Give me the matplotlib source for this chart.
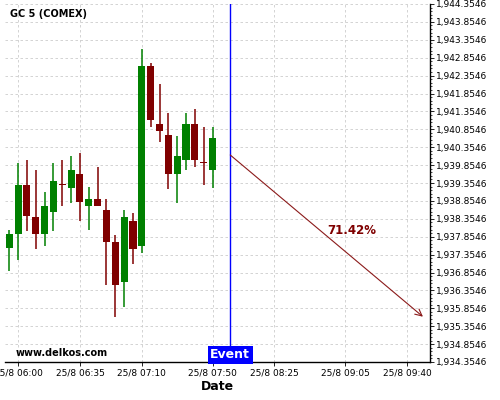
import matplotlib
matplotlib.use("Agg")
import matplotlib.pyplot as plt
import numpy as np
from matplotlib.ticker import FuncFormatter, FixedLocator

# 5-minute candles starting 25/8 05:55 (minutes since midnight)
start_min = 355
opens  = [1937.53, 1937.93, 1939.31, 1938.41, 1937.93, 1938.54, 1939.33, 1939.22,
          1939.61, 1938.72, 1938.90, 1938.60, 1937.71, 1936.60, 1938.30, 1937.60,
          1942.62, 1941.00, 1940.70, 1939.61, 1940.01, 1941.00, 1939.94, 1939.73]
highs  = [1938.03, 1939.90, 1939.99, 1939.71, 1939.10, 1939.90, 1939.99, 1940.11,
          1940.18, 1939.25, 1939.79, 1938.90, 1937.91, 1938.59, 1938.52, 1943.09,
          1942.70, 1942.11, 1941.30, 1940.68, 1941.30, 1941.41, 1940.91, 1940.91]
lows   = [1936.90, 1937.21, 1938.01, 1937.51, 1937.59, 1938.02, 1938.72, 1938.79,
          1938.30, 1938.03, 1938.70, 1936.50, 1935.60, 1935.88, 1937.08, 1937.39,
          1940.91, 1940.49, 1939.20, 1938.79, 1939.72, 1939.79, 1939.29, 1939.21]
closes = [1937.92, 1939.31, 1938.43, 1937.93, 1938.72, 1939.42, 1939.31, 1939.71,
          1938.82, 1938.90, 1938.72, 1937.72, 1936.51, 1938.41, 1937.52, 1942.62,
          1941.12, 1940.82, 1939.61, 1940.11, 1941.00, 1940.01, 1939.92, 1940.61]

tick_mins = [360, 395, 430, 470, 505, 545, 580]
tick_labels = ["25/8 06:00", "25/8 06:35", "25/8 07:10", "25/8 07:50",
               "25/8 08:25", "25/8 09:05", "25/8 09:40"]

event_min = 480
arrow_start = (480, 1940.137)
arrow_end = (589, 1935.62)
pct_text = "71.42%"
pct_pos = (548.7, 1938.04)

y_min, y_max = 1934.3546, 1944.3546

up_col = "#008000"
down_col = "#800000"

fig = plt.figure(figsize=(5, 4), dpi=100)
ax = fig.add_axes([0.01, 0.095, 0.85, 0.895])

for i in range(len(opens)):
    t = start_min + 5 * i
    o, h, l, c = opens[i], highs[i], lows[i], closes[i]
    col = up_col if c >= o else down_col
    ax.plot([t, t], [l, h], color=col, lw=1.1, zorder=3, solid_capstyle="butt")
    body = max(abs(c - o), 0.03)
    ax.bar(t, body, bottom=min(o, c), width=4.0, color=col, zorder=4, linewidth=0)

ax.set_xlim(352.6, 593)
ax.set_ylim(y_min, y_max)

ax.set_xticks(tick_mins)
ax.set_xticklabels(tick_labels)
ax.yaxis.set_major_locator(FixedLocator(y_min + 0.5 * np.arange(21)))
ax.yaxis.set_minor_locator(FixedLocator(y_min + 0.1 * np.arange(101)))
ax.yaxis.set_major_formatter(FuncFormatter(lambda v, p: "{:,.4f}".format(v)))
ax.yaxis.tick_right()
ax.tick_params(axis="both", labelsize=6.5, length=3, width=0.6, pad=1.5)
ax.tick_params(axis="y", which="minor", length=1.5, width=0.5)

ax.grid(True, which="major", color="#cccccc", linestyle=(0, (3, 3)), lw=0.6)
ax.set_axisbelow(True)

for side in ["top", "left"]:
    ax.spines[side].set_visible(False)
ax.spines["right"].set_linewidth(1.0)
ax.spines["bottom"].set_linewidth(1.0)

ax.set_xlabel("Date", fontsize=9, fontweight="bold", labelpad=2)

# event marker
ax.axvline(event_min, color="#0000ff", lw=1.0, zorder=5)
ax.text(event_min, y_min + 0.02, "Event", color="white", fontsize=9, fontweight="bold",
        ha="center", va="bottom", zorder=6,
        bbox=dict(boxstyle="square,pad=0.2", fc="#0000ff", ec="none"))

ax.annotate("", xy=arrow_end, xytext=arrow_start,
            arrowprops=dict(arrowstyle="->", color="#8b1a1a", lw=0.8,
                            mutation_scale=12, shrinkA=0, shrinkB=0), zorder=5)
ax.text(pct_pos[0], pct_pos[1], pct_text, color="#7f0000", fontsize=8.5,
        fontweight="bold", ha="center", va="center")

ax.text(0.012, 0.973, "GC 5 (COMEX)", transform=ax.transAxes, fontsize=7,
        fontweight="bold", ha="left", va="center")
ax.text(0.024, 0.024, "www.delkos.com", transform=ax.transAxes, fontsize=7,
        fontweight="bold", ha="left", va="center")

fig.savefig("out.png", dpi=100)
